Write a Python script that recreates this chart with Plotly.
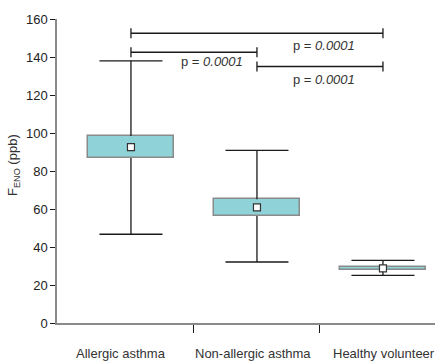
import plotly.graph_objects as go

# ---- data ----
categories = ["Allergic asthma", "Non-allergic asthma", "Healthy volunteer"]
q1 = [86.8, 56.3, 27.9]
q3 = [98.4, 65.1, 29.6]
mean = [92.6, 60.9, 28.8]
lower = [46.7, 32.1, 25.1]
upper = [138.0, 90.9, 33.0]
comparisons = [(0, 2), (0, 1), (1, 2)]
p_values = ["0.0001", "0.0001", "0.0001"]
y_ticks = [0, 20, 40, 60, 80, 100, 120, 140, 160]

# ---- layout constants ----
bracket_y = [152.5, 142.5, 135.0]
label_pos = [(1.535, 146.0), (0.64, 137.5), (1.53, 128.0)]
label_xshift = [-10, -4, 1]
FONT = "Liberation Sans, Arial, sans-serif"
TEXT = "#333333"

xs = list(range(len(categories)))
fig = go.Figure()

# boxes
fig.add_trace(go.Bar(
    x=xs, y=[b - a for a, b in zip(q1, q3)], base=q1, width=0.683,
    marker=dict(color="#8fd3d9", line=dict(color="#8a8a8a", width=1.5)),
    hoverinfo="skip", showlegend=False))

# whiskers
wx, wy = [], []
for i, x in enumerate(xs):
    wx += [x, x, None, x, x, None]
    wy += [q3[i], upper[i], None, lower[i], q1[i], None]
    wx += [x - 0.25, x + 0.25, None, x - 0.25, x + 0.25, None]
    wy += [upper[i], upper[i], None, lower[i], lower[i], None]
fig.add_trace(go.Scatter(x=wx, y=wy, mode="lines",
                         line=dict(color="#1a1a1a", width=1.3),
                         hoverinfo="skip", showlegend=False))

# mean markers
fig.add_trace(go.Scatter(x=xs, y=mean, mode="markers",
                         marker=dict(symbol="square", size=7, color="white",
                                     line=dict(color="#333333", width=1.2)),
                         showlegend=False))

# significance brackets
bx, by = [], []
for (a, b), yy in zip(comparisons, bracket_y):
    bx += [a, b, None, a, a, None, b, b, None]
    by += [yy, yy, None, yy - 2.6, yy + 2.6, None, yy - 2.6, yy + 2.6, None]
fig.add_trace(go.Scatter(x=bx, y=by, mode="lines",
                         line=dict(color="#1a1a1a", width=1.3),
                         hoverinfo="skip", showlegend=False))

annotations = []
for p, (lx, ly) in zip(p_values, label_pos):
    annotations.append(dict(x=lx, y=ly, xref="x", yref="y", text=f"p = <i>{p}</i>",
                            showarrow=False, font=dict(family=FONT, size=13, color=TEXT),
                            xanchor="center", yanchor="middle"))
for x, c, sh in zip(xs, categories, label_xshift):
    annotations.append(dict(x=x, y=0, xref="x", yref="paper", text=c, showarrow=False,
                            xshift=sh, yshift=-30, xanchor="center", yanchor="middle",
                            font=dict(family=FONT, size=13, color=TEXT)))
annotations.append(dict(x=0, y=0.52, xref="paper", yref="paper",
                        text="F<sub>ENO</sub> (ppb)", textangle=-90, showarrow=False,
                        xshift=-43, xanchor="center", yanchor="middle",
                        font=dict(family=FONT, size=13, color=TEXT)))

fig.update_layout(
    width=435, height=362, margin=dict(l=57, r=0, t=19, b=39),
    paper_bgcolor="white", plot_bgcolor="white",
    font=dict(family=FONT, size=13, color=TEXT),
    annotations=annotations, bargap=0,
    xaxis=dict(range=[-0.587, 2.413], tickvals=[0.5, 1.5], showticklabels=False,
               ticks="outside", ticklen=8, tickcolor="#1a1a1a", tickwidth=1.2,
               showline=True, linecolor="#8a8a8a", linewidth=1.5,
               showgrid=False, zeroline=False, fixedrange=True),
    yaxis=dict(range=[0, 160], tickvals=y_ticks, ticks="outside", ticklen=5,
               tickcolor="#1a1a1a", tickwidth=1.2, showline=True,
               linecolor="#8a8a8a", linewidth=1.5, showgrid=False, zeroline=False,
               tickfont=dict(size=13, color="#222222"), fixedrange=True),
)

fig.write_html("out.html")
